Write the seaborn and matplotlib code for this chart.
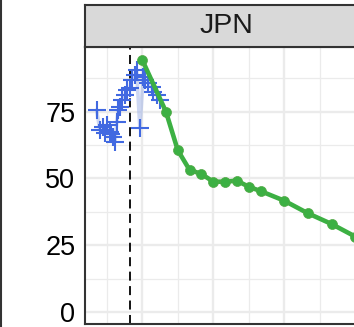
import pandas as pd
import matplotlib.pyplot as plt
import seaborn as sns
from matplotlib.lines import Line2D

# observed estimates (blue crosses)
obs_year = [2000.7, 2002.1, 2003.5, 2004.2, 2005.0, 2006.3, 2007.0, 2007.7, 2008.5, 2009.2,
            2009.9, 2010.6, 2011.3, 2012.7, 2013.4, 2014.8, 2015.5, 2016.9, 2017.6, 2019.0,
            2020.4, 2021.1, 2022.5, 2024.0, 2024.6, 2026.1, 2027.5]
obs_value = [75.6, 68.1, 69.4, 67.0, 70.0, 67.5, 66.5, 65.6, 63.8, 71.0,
             75.6, 76.8, 79.3, 81.2, 83.1, 83.7, 86.8, 88.7, 90.5, 68.8,
             88.0, 86.8, 85.6, 84.3, 82.4, 81.2, 79.3]

# projection (green line)
proj_year = [2020, 2030, 2035, 2040, 2045, 2050, 2055, 2060, 2065, 2070, 2080, 2090, 2100, 2110]
proj_value = [94.3, 75.0, 60.6, 53.2, 51.7, 48.8, 48.8, 49.2, 46.9, 45.3, 41.7, 37.0, 33.0, 28.3]

base_year = 2015
panel_label = "JPN"
y_ticks = [0, 25, 50, 75]

obs = pd.DataFrame({"year": obs_year, "value": obs_value})
proj = pd.DataFrame({"year": proj_year, "value": proj_value})

sns.set_theme(style="white")
plt.rcParams['font.family'] = ['Liberation Sans', 'DejaVu Sans']

W, H = 354, 327
fig = plt.figure(figsize=(W / 100, H / 100), dpi=100)
left, right, top, bottom = 85, 367, 46.7, 324.3
ax = fig.add_axes([left / W, (H - bottom) / H, (right - left) / W, (bottom - top) / H])
strip = fig.add_axes([left / W, (H - top) / H, (right - left) / W, (top - 5) / H])

# grid
ax.set_xticks([2020, 2050, 2080, 2110])
ax.set_xticks([2005, 2035, 2065, 2095], minor=True)
ax.set_yticks(y_ticks)
ax.set_yticks([12.5, 37.5, 62.5, 87.5], minor=True)
ax.grid(which='major', color='#EBEBEB', lw=1.7)
ax.grid(which='minor', color='#EBEBEB', lw=0.9)
ax.set_axisbelow(True)

ax.axvline(base_year, color='black', lw=1.3, ls=(0, (5, 3)), zorder=2)

sns.lineplot(data=obs, x="year", y="value", sort=False, ax=ax,
             color='#9DB0E6', alpha=0.5, lw=2.6, zorder=3)
sns.scatterplot(data=obs, x="year", y="value", ax=ax, marker='+', s=165,
                color='#4169E1', linewidth=1.5, zorder=4)
sns.lineplot(data=proj, x="year", y="value", ax=ax, color='#3CB043', lw=3.3,
             marker='o', markersize=7.2, markeredgecolor='#52A845', markeredgewidth=0.5,
             zorder=5)

ax.set_xlim(1995.8, 2115.0)
ax.set_ylim(-4.5, 99.25)
ax.set_xlabel('')
ax.set_ylabel('')
ax.set_xticklabels([])
ax.tick_params(axis='both', which='major', length=5, width=1.1, color='#333333',
               labelsize=19.5, labelcolor='black', pad=2)
ax.tick_params(axis='both', which='minor', length=0)
ax.tick_params(axis='x', labelbottom=False)
for s in ax.spines.values():
    s.set_color('#333333')
    s.set_linewidth(1.5)

strip.set_facecolor('#D9D9D9')
strip.set_xticks([])
strip.set_yticks([])
for s in strip.spines.values():
    s.set_color('#333333')
    s.set_linewidth(1.5)
strip.text(0.5, 0.5, panel_label, ha='center', va='center', fontsize=20.5,
           color='#1A1A1A', transform=strip.transAxes)

fig.add_artist(Line2D([1 / W, 1 / W], [0, 1], color='#333333', lw=1.5))

fig.savefig('out.png', dpi=100)
